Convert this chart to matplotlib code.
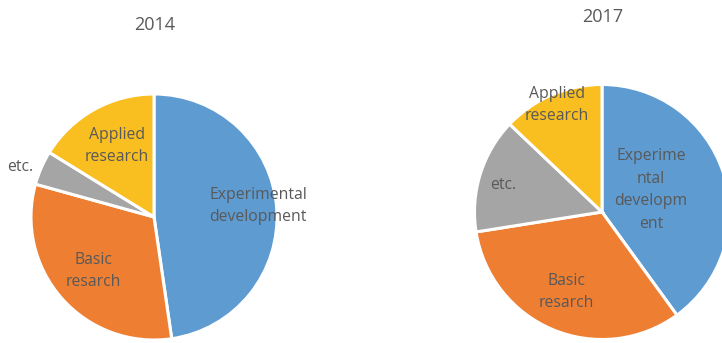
import matplotlib
matplotlib.use("Agg")
import matplotlib.pyplot as plt

categories = ["Experimental development", "Basic research", "etc.", "Applied research"]
values_2014 = [47.7, 31.6, 4.5, 16.2]
values_2017 = [40.0, 32.5, 14.6, 12.9]
colors = ["#5E9BD1", "#ED7E32", "#A5A5A5", "#F9BE20"]

labels_2014 = ["Experimental\ndevelopment", "Basic\nresarch", "etc.", "Applied\nresearch"]
labels_2017 = ["Experime\nntal\ndevelopm\nent", "Basic\nresarch", "etc.", "Applied\nresearch"]

W, H = 722, 343
fig = plt.figure(figsize=(W / 100, H / 100), dpi=100)
ax = fig.add_axes([0, 0, 1, 1])

wp = dict(edgecolor="white", linewidth=2.2)
ax.pie(values_2014, colors=colors, startangle=90, counterclock=False,
       center=(154, H - 217), radius=123, wedgeprops=wp, frame=True)
ax.pie(values_2017, colors=colors, startangle=90, counterclock=False,
       center=(602, H - 212), radius=127.5, wedgeprops=wp, frame=True)
ax.set_xlim(0, W)
ax.set_ylim(0, H)
ax.set_aspect("equal")
ax.axis("off")

font = "Open Sans"
tc = "#595959"
fs = 11.3
ls = 1.55
pos_2014 = [(258, 206), (93, 271), (20, 167), (117, 146)]
pos_2017 = [(651, 190), (566, 292), (503, 185), (557, 105)]
for lab, (x, y) in zip(labels_2014, pos_2014):
    ax.text(x, H - y, lab, ha="center", va="center", fontsize=fs, color=tc,
            family=font, linespacing=ls)
for lab, (x, y) in zip(labels_2017, pos_2017):
    ax.text(x, H - y, lab, ha="center", va="center", fontsize=fs, color=tc,
            family=font, linespacing=ls)

ax.text(155, H - 25, "2014", ha="center", va="center", fontsize=13, color=tc, family=font)
ax.text(603, H - 17, "2017", ha="center", va="center", fontsize=13, color=tc, family=font)

fig.savefig("out.png", dpi=100)
